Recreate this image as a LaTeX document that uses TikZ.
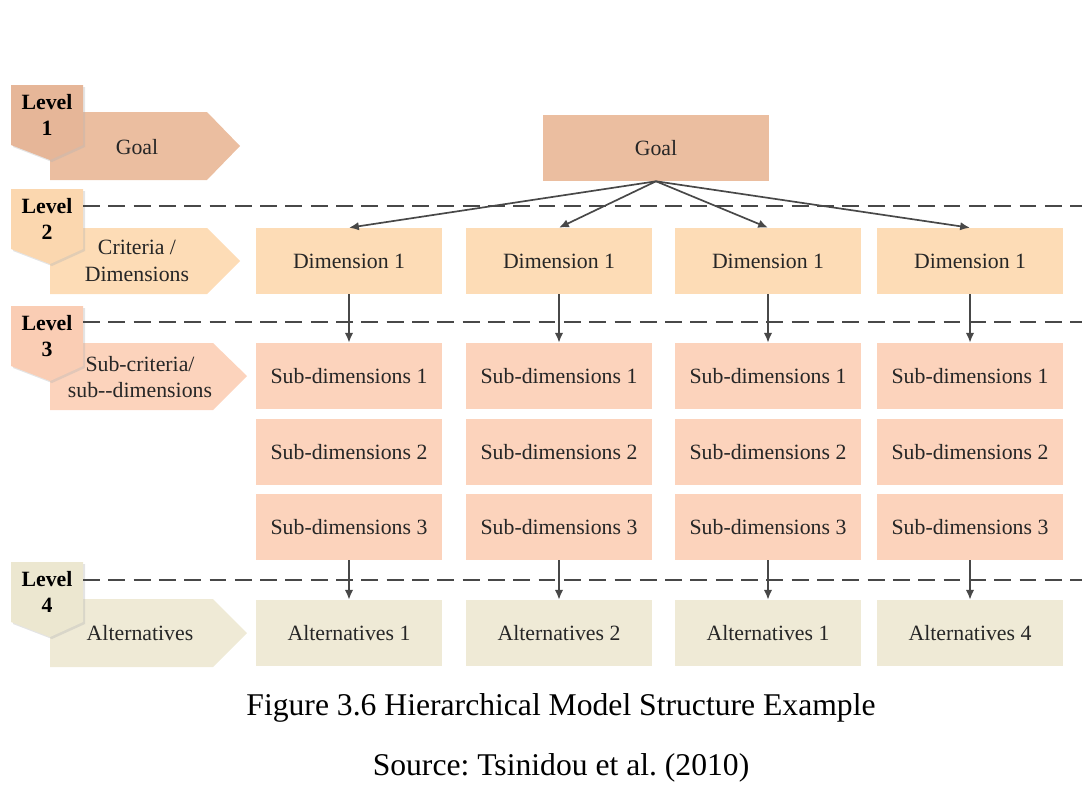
\documentclass[tikz,border=0pt]{standalone}
\usepackage{fontspec}
\setmainfont{Liberation Serif}
\usetikzlibrary{arrows.meta,positioning}
\definecolor{goalc}{RGB}{235,190,160}
\definecolor{tagone}{RGB}{230,182,152}
\definecolor{dimc}{RGB}{253,220,182}
\definecolor{tagtwo}{RGB}{251,215,175}
\definecolor{subc}{RGB}{252,211,188}
\definecolor{tagthree}{RGB}{250,205,180}
\definecolor{altc}{RGB}{239,234,214}
\definecolor{tagfour}{RGB}{236,231,208}
\definecolor{linec}{RGB}{72,72,72}
\frenchspacing

\tikzset{
  cell/.style={rectangle,minimum width=4.65cm,minimum height=1.65cm,inner sep=0pt,
               font=\fontsize{15.5}{18}\selectfont,text=black!85},
  side/.style={font=\fontsize{15.5}{19}\selectfont,align=center,text=black!85},
  lvl/.style={font=\bfseries\fontsize{15.5}{19}\selectfont,align=center},
  sep/.style={linec,line width=1.6pt,dash pattern=on 12pt off 6pt},
  link/.style={linec,line width=1.2pt,-{Latex[length=7pt,width=6pt]}},
}

\begin{document}
\begin{tikzpicture}[x=0.025cm,y=-0.025cm]
  \useasboundingbox (0,0) rectangle (1082,795);
  % left-hand level arrows
  \fill[goalc] (50,112)--(207,112)--(240,146)--(207,180)--(50,180)--cycle;
  \node[side] (lgoal) at (137,147) {Goal};
  \fill[dimc] (50,228)--(207,228)--(240,261)--(207,294)--(50,294)--cycle;
  \node[side] (lcrit) at (137,261) {Criteria /\\Dimensions};
  \fill[subc] (50,343)--(213,343)--(247,376)--(213,410)--(50,410)--cycle;
  \node[side] (lsub) at (140,377) {Sub-criteria/\\sub-{}-dimensions};
  \fill[altc] (50,599)--(213,599)--(247,633)--(213,667)--(50,667)--cycle;
  \node[side] (lalt) at (140,633) {Alternatives};
  % level tags
  \foreach \t/\n/\c in {85/1/tagone,189/2/tagtwo,306/3/tagthree,562/4/tagfour}{
    \fill[black!30,opacity=.35] (13,\t+2)--(85,\t+2)--(85,\t+62)--(52,\t+77)--(13,\t+62)--cycle;
    \fill[\c] (11,\t)--(83,\t)--(83,\t+60)--(50,\t+75)--(11,\t+60)--cycle;
    \node[lvl] (tag\n) at (47,\t+30) {Level\\\n};
  }
  % separators
  \foreach \y in {206,322,580}
    \draw[sep] (83,\y)--(1082,\y);
  % hierarchy
  \node[cell,fill=goalc,minimum width=5.625cm] (goal) at (656,148) {Goal};
  \foreach \i/\x/\a in {1/349/1,2/559/2,3/768/1,4/970/4}{
    \node[cell,fill=dimc] (dim\i) at (\x,261) {Dimension 1};
    \node[cell,fill=subc] (sa\i) at (\x,376) {Sub-dimensions 1};
    \node[cell,fill=subc] (sb\i) at (\x,452) {Sub-dimensions 2};
    \node[cell,fill=subc] (sc\i) at (\x,527) {Sub-dimensions 3};
    \node[cell,fill=altc] (alt\i) at (\x,633) {Alternatives \a};
    \draw[link] (goal.south)--(dim\i.north);
    \draw[link] (dim\i.south)--(sa\i.north);
    \draw[link] (sc\i.south)--(alt\i.north);
  }
  % caption
  \node[font=\fontsize{22.5}{26}\selectfont] (cap) at (561,708) {Figure 3.6 Hierarchical Model Structure Example};
  \node[font=\fontsize{22.5}{26}\selectfont] (src) at (561,768) {Source: Tsinidou et al. (2010)};
\end{tikzpicture}
\end{document}
